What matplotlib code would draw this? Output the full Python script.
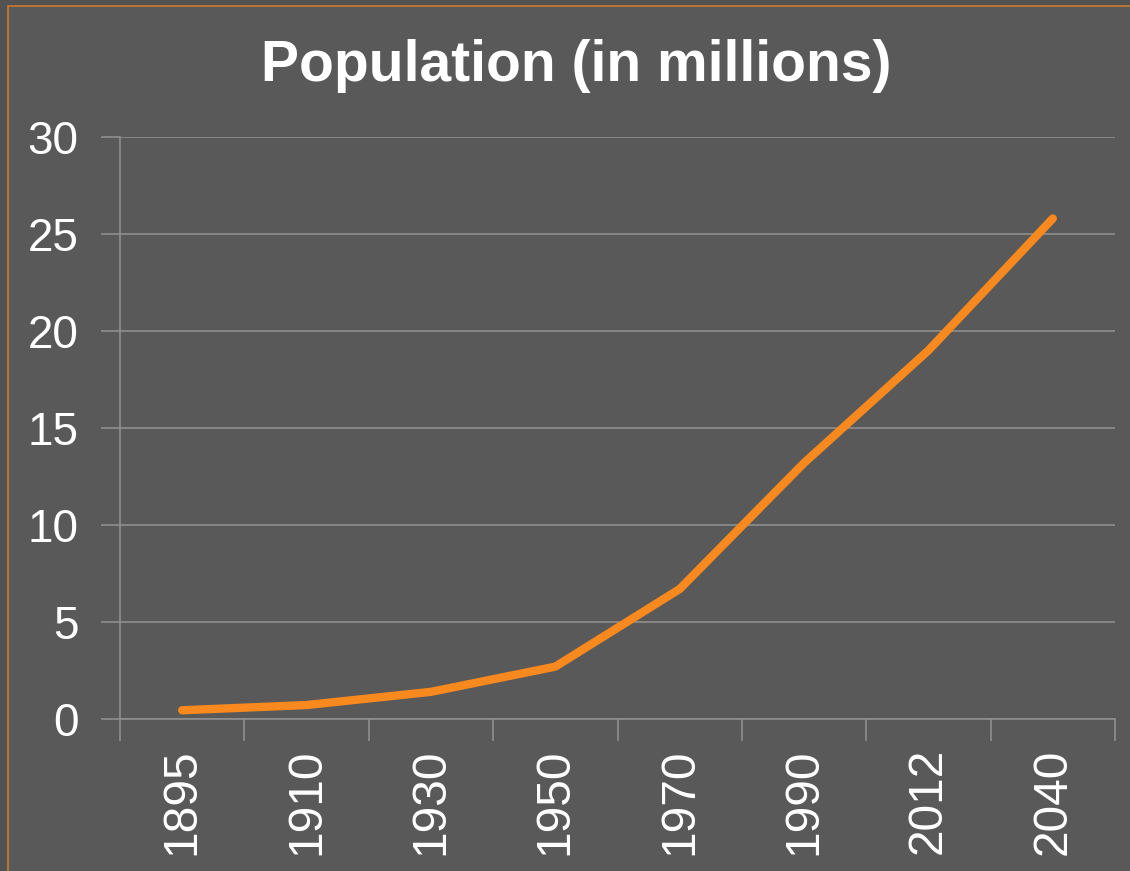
import matplotlib.pyplot as plt
import numpy as np
from matplotlib.patches import Rectangle

years = ['1895', '1910', '1930', '1950', '1970', '1990', '2012', '2040']
population = [0.45, 0.72, 1.4, 2.7, 6.7, 13.2, 19.0, 25.8]

bg = '#595959'
grid_col = '#8e8e8e'
line_col = '#f7891e'

plt.rcParams['font.family'] = ['Liberation Sans', 'DejaVu Sans']
fig = plt.figure(figsize=(11.3, 8.71), dpi=100, facecolor='#525252')
# inner panel with thin orange border
fig.patches.append(Rectangle((8 / 1130, -0.1), 1.2, 1.1 - 6 / 871, transform=fig.transFigure,
                             facecolor=bg, edgecolor='#c87a2a', linewidth=1.2, zorder=-5))

ax = fig.add_axes([120 / 1130, 1 - 719 / 871, 995 / 1130, (719 - 137) / 871])
ax.set_facecolor(bg)

x = np.arange(len(years))
ax.plot(x, population, color=line_col, linewidth=6, solid_capstyle='round',
        solid_joinstyle='round', zorder=3)

ax.set_xlim(-0.5, len(years) - 0.5)
ax.set_ylim(0, 30)
ax.set_yticks(np.arange(0, 31, 5))
ax.set_xticks(x)
ax.set_xticklabels(years, rotation=90)
ax.set_xticks(np.arange(-0.5, len(years), 1), minor=True)

ax.grid(axis='y', color=grid_col, linewidth=1.2, zorder=1)
for s in ['top', 'right']:
    ax.spines[s].set_visible(False)
for s in ['left', 'bottom']:
    ax.spines[s].set_color(grid_col)
    ax.spines[s].set_linewidth(1.2)

ax.tick_params(axis='y', colors=grid_col, labelcolor='white', labelsize=33,
               length=14, width=1.2, pad=16)
ax.tick_params(axis='x', which='major', length=0, labelcolor='white', labelsize=34.5, pad=21)
ax.tick_params(axis='x', which='minor', length=16, width=1.2, color=grid_col)

fig.text(576 / 1130, 1 - 66 / 871, 'Population (in millions)', color='white', fontsize=41,
         fontweight='bold', ha='center', va='center')

plt.savefig('out.png', dpi=100, facecolor=fig.get_facecolor())
